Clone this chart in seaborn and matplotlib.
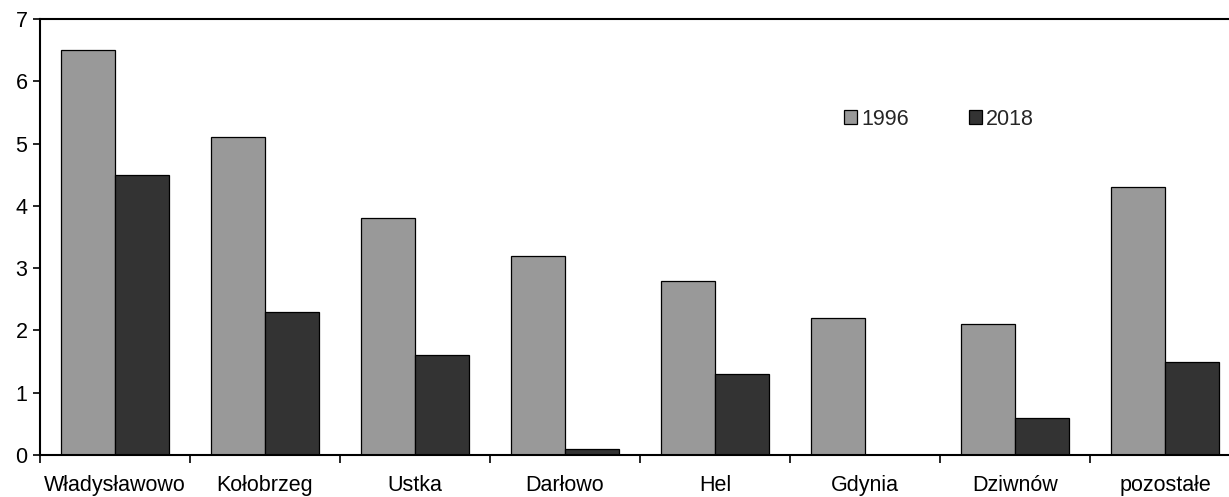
import matplotlib
matplotlib.use("Agg")
import matplotlib.pyplot as plt
import numpy as np
import pandas as pd
import seaborn as sns

# dane
porty = ["Władysławowo", "Kołobrzeg", "Ustka", "Darłowo", "Hel", "Gdynia", "Dziwnów", "pozostałe"]
lata = ["1996", "2018"]
wart_1996 = [6.5, 5.1, 3.8, 3.2, 2.8, 2.2, 2.1, 4.3]
wart_2018 = [4.5, 2.3, 1.6, 0.1, 1.3, 0.0, 0.6, 1.5]

df = pd.DataFrame({
    "port": porty * 2,
    "rok": [lata[0]] * len(porty) + [lata[1]] * len(porty),
    "wartosc": wart_1996 + wart_2018,
})

sns.set_theme(style="white")
plt.rcParams["font.family"] = ["Liberation Sans", "DejaVu Sans"]
plt.rcParams["font.size"] = 15.5

fig = plt.figure(figsize=(12.29, 4.97), dpi=100)
ax = fig.add_axes([40 / 1229, 42 / 497, 1189 / 1229, 436 / 497])

sns.barplot(
    data=df, x="port", y="wartosc", hue="rok",
    palette={"1996": "#999999", "2018": "#333333"},
    width=0.72, edgecolor="black", linewidth=0.9,
    saturation=1, ax=ax,
)

ax.set_ylim(0, 7)
ax.set_xlim(-0.5, 7.5 - 11 / 150)
ax.set_yticks(range(0, 8))
ax.set_xlabel("")
ax.set_ylabel("")

for s in ["left", "bottom", "top"]:
    ax.spines[s].set_color("black")
    ax.spines[s].set_linewidth(1.5)
ax.spines["right"].set_visible(False)

ax.tick_params(axis="y", which="major", direction="out", length=5, width=1.2,
               color="black", left=True, labelsize=15.5, pad=4, labelcolor="black")
ax.set_xticks(np.arange(len(porty)))
ax.set_xticklabels(porty)
ax.set_xticks(np.arange(len(porty)) - 0.5, minor=True)
ax.tick_params(axis="x", which="major", length=0, pad=14.5, labelsize=15.5, labelcolor="black")
ax.tick_params(axis="x", which="minor", direction="out", length=6, width=1.2,
               color="black", bottom=True)

ax.legend(
    loc="center", bbox_to_anchor=(0.756, 0.77), ncol=2, frameon=False,
    handlelength=0.6, handleheight=0.6, handletextpad=0.2,
    columnspacing=2.8, fontsize=15.5, title=None,
)

fig.savefig("out.png", dpi=100)
